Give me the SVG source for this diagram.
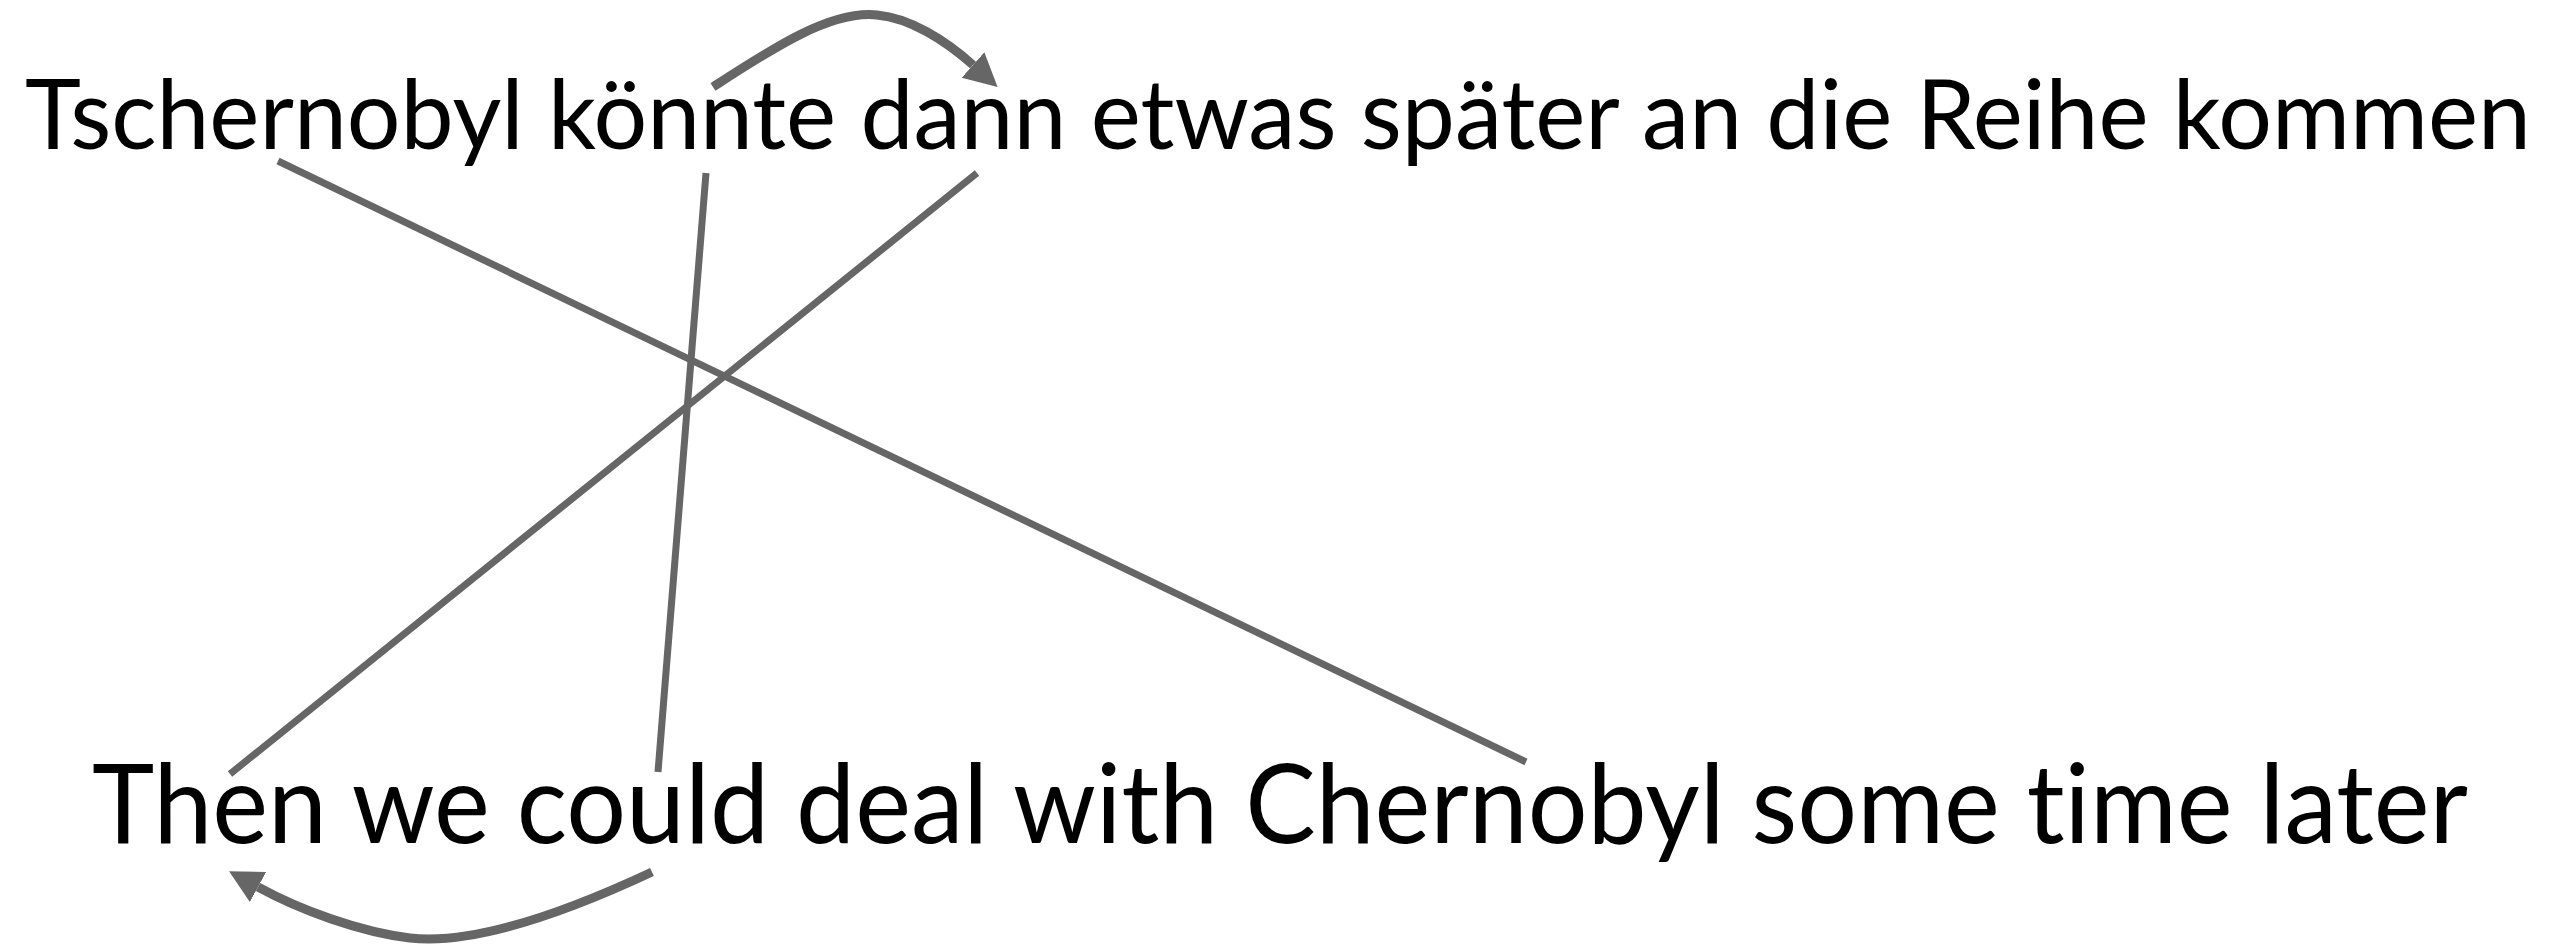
<svg xmlns="http://www.w3.org/2000/svg" width="2571" height="945" viewBox="0 0 2571 945">
  <style>
    .sent { font-family: Lato, "Open Sans", "Liberation Sans", sans-serif; fill: #000; font-variant-ligatures: none; font-feature-settings: "liga" 0, "clig" 0; }
    .link { stroke: #666666; stroke-width: 7; fill: none; }
    .arc { stroke: #666666; stroke-width: 9; fill: none; }
  </style>
  <defs>
    <marker id="head" markerUnits="userSpaceOnUse" markerWidth="44" markerHeight="44" viewBox="0 -22 44 44" refX="0" refY="0" orient="auto">
      <path d="M0,-17 L33,0 L0,17 z" fill="#666666"/>
    </marker>
  </defs>
  <rect width="2571" height="945" fill="#ffffff"/>
  <g id="connectors">
    <line class="link" x1="278" y1="161" x2="1526" y2="762"/>
    <line class="link" x1="706" y1="173" x2="658" y2="772"/>
    <line class="link" x1="977" y1="173" x2="230" y2="774"/>
    <path class="arc" d="M713,87 C770,50 830,10 877,15 C910,18 945,40 973,65" marker-end="url(#head)"/>
    <path class="arc" d="M652,872 C560,915 470,945 410,938 C360,932 300,910 258,887" marker-end="url(#head)"/>
  </g>
  <g id="node-german">
    <text class="sent" x="25" y="149" font-size="97" textLength="2506" lengthAdjust="spacingAndGlyphs">Tschernobyl könnte dann etwas später an die Reihe kommen</text>
  </g>
  <g id="node-english">
    <text class="sent" x="92" y="843" font-size="110" textLength="2376" lengthAdjust="spacingAndGlyphs">Then we could deal with Chernobyl some time later</text>
  </g>
</svg>
